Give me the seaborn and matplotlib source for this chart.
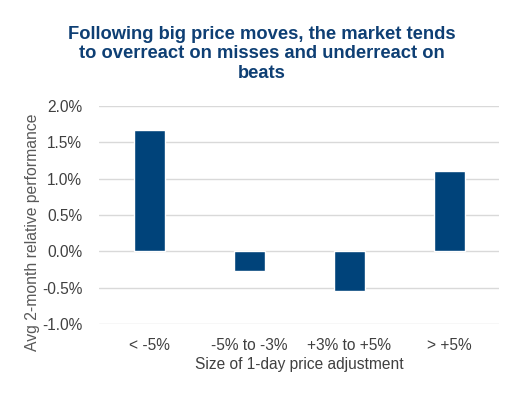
import matplotlib
matplotlib.use("Agg")
import matplotlib.pyplot as plt
import seaborn as sns
from matplotlib.ticker import FuncFormatter

sns.set_style('white')
plt.rcParams['font.family'] = ['Liberation Sans', 'DejaVu Sans']

# data
categories = ['< -5%', '-5% to -3%', '+3% to +5%', '> +5%']
avg_perf = [1.67, -0.27, -0.54, 1.11]  # avg 2-month relative performance, %

bar_color = '#00437A'
title_color = '#0E3F74'
text_color = '#404040'

fig = plt.figure(figsize=(5.28, 3.99), dpi=100)
ax = fig.add_axes([0.1875, 0.188, 0.758, 0.546])

sns.barplot(x=categories, y=avg_perf, color=bar_color, width=0.31,
            saturation=1, ax=ax)

ax.set_ylim(-1.0, 2.0)
ax.set_yticks([-1.0, -0.5, 0.0, 0.5, 1.0, 1.5, 2.0])
ax.yaxis.set_major_formatter(FuncFormatter(lambda v, p: '%.1f%%' % v))
ax.grid(axis='y', color='#D9D9D9', linewidth=1)
ax.set_axisbelow(True)
for s in ax.spines.values():
    s.set_visible(False)
ax.tick_params(axis='both', length=0, labelsize=11.2, colors=text_color)
ax.tick_params(axis='x', pad=10)
ax.tick_params(axis='y', pad=12)

ax.set_xlabel('Size of 1-day price adjustment', fontsize=11.2,
              color=text_color, labelpad=3)
ax.set_ylabel('')
fig.text(0.062, 1 - 232 / 399, 'Avg 2-month relative performance', rotation=90,
         ha='center', va='center', fontsize=11.3, color='#595959')

fig.text(0.496, 1 - 54 / 399,
         'Following big price moves, the market tends\n'
         'to overreact on misses and underreact on\nbeats',
         ha='center', va='center', fontsize=13.2, fontweight='bold',
         color=title_color, linespacing=1.2)

fig.savefig('out.png', dpi=100)
